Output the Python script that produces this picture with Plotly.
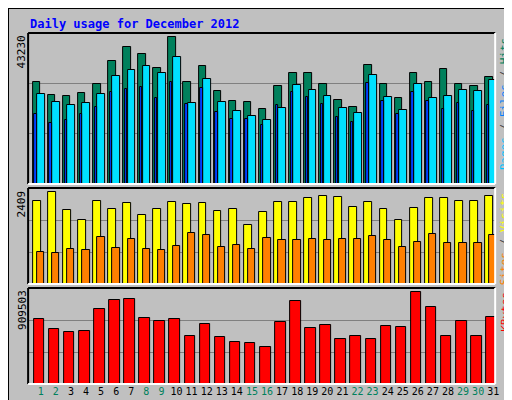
import plotly.graph_objects as go

days = list(range(1, 32))
weekend = {1, 2, 8, 9, 15, 16, 22, 23, 29, 30}
hits = [29970, 26140, 25845, 26730, 29380, 36160, 40285, 38220, 34095, 43230, 29970, 34685, 27320, 24370, 24075, 22015,
        28790, 32625, 32625, 29380, 24665, 22605, 34980, 29380, 25255, 32625, 29970, 33800, 29380, 28790, 31445]
files = [26435, 24075, 23195, 23780, 26435, 31740, 33505, 34685, 32625, 37340, 23780, 30855, 24075, 21425, 19950, 18770,
         22310, 29090, 27615, 25845, 22310, 20835, 32035, 25550, 21720, 29380, 25255, 25845, 27615, 27320, 30560]
pages = [20630, 17975, 18770, 20540, 22605, 27025, 27910, 28500, 25255, 29970, 23490, 28205, 21130, 19065, 19065, 17300,
         23195, 27025, 25550, 23490, 19655, 18185, 29675, 24370, 20540, 27025, 24370, 22015, 23780, 21425, 23195]
visits = [2173, 2409, 1936, 1673, 2173, 1962, 2120, 1805, 1962, 2146, 2094, 2120, 1910, 1962, 1542, 1884,
          2146, 2146, 2251, 2304, 2278, 2015, 2146, 1962, 1673, 1989, 2251, 2251, 2173, 2173, 2304]
sites = [833, 806, 912, 885, 1227, 938, 1174, 912, 885, 990, 1332, 1279, 964, 1017, 912, 1201,
         1148, 1148, 1174, 1148, 1174, 1174, 1253, 1148, 964, 1095, 1306, 1069, 1069, 1069, 1279]
kbytes = [640560, 540940, 511050, 521010, 740180, 829830, 839800, 650520, 620630, 640560, 471200, 590750, 461240,
          411430, 401470, 361620, 610670, 819870, 550900, 580780, 441320, 471200, 441320, 570820, 560860, 909503,
          760100, 471200, 620630, 471200, 660480]
max_labels = ["43230", "2409", "909503"]

BG = "#C0C0C0"
fig = go.Figure()
ln = dict(color="black", width=1)

def bar(y, color, off, w, ax):
    fig.add_trace(go.Bar(x=days, y=y, marker=dict(color=color, line=ln), offset=off, width=w,
                         xaxis="x", yaxis=ax, showlegend=False, hoverinfo="skip"))

bar(hits, "#00805C", -0.53, 0.5, "y")
bar(files, "#00E0FF", -0.24, 0.52, "y")
bar(pages, "#0040FF", -0.42, 0.16, "y")
bar(visits, "#FFFF00", -0.53, 0.52, "y2")
bar(sites, "#FF8000", -0.24, 0.48, "y2")
bar(kbytes, "#FF0000", -0.46, 0.7, "y3")

ranges = [44500, 2522, 946390]
doms = [[0.56, 0.9375], [0.31, 0.55], [0.06, 0.30]]
mono = "DejaVu Sans Mono"
lay = dict(width=512, height=400, margin=dict(l=0, r=0, t=0, b=0), paper_bgcolor=BG, plot_bgcolor=BG,
           barmode="overlay", bargap=0)
for i, key in enumerate(["yaxis", "yaxis2", "yaxis3"]):
    R = ranges[i]
    a = dict(domain=doms[i], range=[0, R], tickvals=[R / 3, 2 * R / 3], showticklabels=False,
             gridcolor="#808080", gridwidth=1, zeroline=False, fixedrange=True)
    if i:
        a["anchor"] = "x"
    lay[key] = a
ticktext = [f'<span style="color:{"#00805C" if d in weekend else "black"}">{d}</span>' for d in days]
lay["xaxis"] = dict(domain=[0.0396, 0.959], range=[0.16, 31.13], tickvals=days, ticktext=ticktext,
                    tickfont=dict(family=mono, size=10), tickangle=0, ticks="", showgrid=False, zeroline=False,
                    anchor="y3", fixedrange=True)
fig.update_layout(**lay)

shapes = [dict(type="rect", xref="paper", yref="paper", x0=0, x1=1, y0=0, y1=1,
               line=dict(color="black", width=2), layer="below")]
for d in doms:
    shapes.append(dict(type="line", xref="paper", yref="paper", x0=0.0396, x1=0.0396, y0=d[0], y1=d[1],
                       line=dict(color="black", width=2)))
    shapes.append(dict(type="line", xref="paper", yref="paper", x0=0.0396, x1=0.959, y0=d[1], y1=d[1],
                       line=dict(color="black", width=2)))
    shapes.append(dict(type="line", xref="paper", yref="paper", x0=0.959, x1=0.959, y0=d[0], y1=d[1],
                       line=dict(color="white", width=2)))
    shapes.append(dict(type="line", xref="paper", yref="paper", x0=0.0396, x1=0.959, y0=d[0], y1=d[0],
                       line=dict(color="white", width=2)))
shapes.append(dict(type="line", xref="paper", yref="paper", x0=0.005, x1=0.995, y0=0.006, y1=0.006,
                   line=dict(color="#808080", width=3)))
shapes.append(dict(type="line", xref="paper", yref="paper", x0=0.995, x1=0.995, y0=0.006, y1=0.993,
                   line=dict(color="#808080", width=3)))
fig.update_layout(shapes=shapes)

ann = [dict(text="<b>Daily usage for December 2012</b>", xref="paper", yref="paper", x=20 / 512, y=1 - 16 / 400,
            xanchor="left", yanchor="middle", showarrow=False, font=dict(family=mono, size=12, color="#0000FF"))]
for i, d in enumerate(doms):
    ann.append(dict(text=max_labels[i], xref="paper", yref="paper", x=14 / 512, y=d[1], xanchor="center",
                    yanchor="top", textangle=-90, showarrow=False, font=dict(family=mono, size=11, color="black")))
side = [('<span style="color:#00C0FF">Pages</span> / <span style="color:#0080FF">Files</span> / '
         '<span style="color:#00805C">Hits</span>', 0.9375),
        ('<span style="color:#FF8000">Sites</span> / <span style="color:#FFFF00">Visits</span>', 0.55),
        ('<span style="color:#FF0000">KBytes</span>', 0.30)]
for t, y in side:
    ann.append(dict(text=t, xref="paper", yref="paper", x=0.978, y=y - 0.005, xanchor="center", yanchor="top",
                    textangle=-90, showarrow=False, font=dict(family=mono, size=11, color="#404040")))
fig.update_layout(annotations=ann)
fig.write_html("out.html")
